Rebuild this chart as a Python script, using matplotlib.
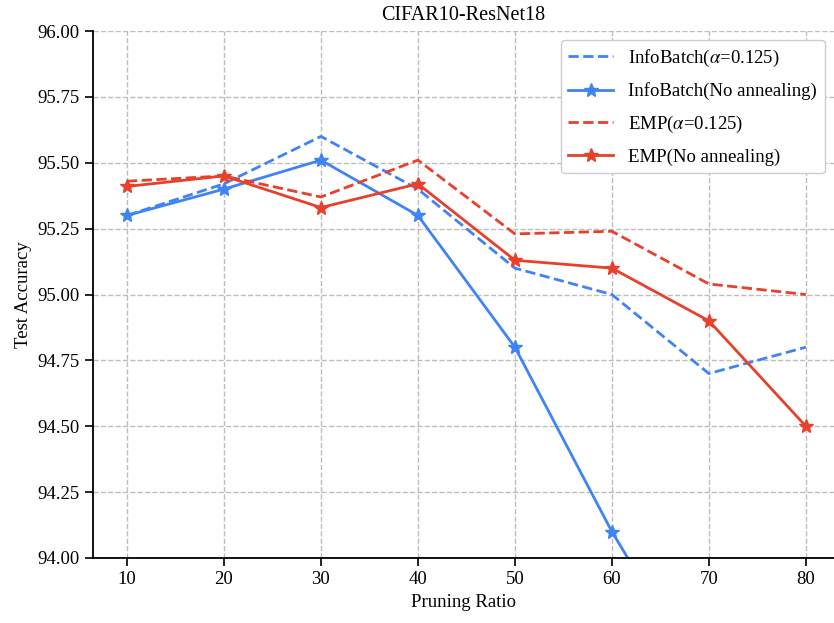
import matplotlib.pyplot as plt

plt.rcParams['font.family'] = ['Liberation Serif', 'DejaVu Serif']
plt.rcParams['mathtext.fontset'] = 'stix'

ratios = [10, 20, 30, 40, 50, 60, 70, 80]
infobatch_anneal = [95.30, 95.42, 95.60, 95.40, 95.10, 95.00, 94.70, 94.80]
infobatch_no_anneal = [95.30, 95.40, 95.51, 95.30, 94.80, 94.10, 93.49, 93.20]
emp_anneal = [95.43, 95.45, 95.37, 95.51, 95.23, 95.24, 95.04, 95.00]
emp_no_anneal = [95.41, 95.45, 95.33, 95.42, 95.13, 95.10, 94.90, 94.50]

blue = '#3f83f5'
red = '#e8402b'

fig = plt.figure(figsize=(8.34, 6.23), dpi=100)
ax = fig.add_axes([93 / 834, 65 / 623, (834 - 93) / 834, 527 / 623])

ax.plot(ratios, infobatch_anneal, '--', color=blue, lw=2, label=r'InfoBatch($\alpha$=0.125)')
ax.plot(ratios, infobatch_no_anneal, '-', color=blue, lw=2, marker='*', ms=10,
        label='InfoBatch(No annealing)')
ax.plot(ratios, emp_anneal, '--', color=red, lw=2, label=r'EMP($\alpha$=0.125)')
ax.plot(ratios, emp_no_anneal, '-', color=red, lw=2, marker='*', ms=10,
        label='EMP(No annealing)')

ax.set_xlim(6.5, 82.9)
ax.set_ylim(94.0, 96.0)
ax.set_xticks(ratios)
ax.set_yticks([94.0 + 0.25 * i for i in range(9)])
ax.yaxis.set_major_formatter(plt.FormatStrFormatter('%.2f'))
ax.tick_params(labelsize=13.5, length=6, width=1.2)

ax.grid(True, linestyle='--', color='#bdbdbd', lw=1)
ax.set_axisbelow(True)
ax.spines['top'].set_visible(False)
ax.spines['right'].set_visible(False)
ax.spines['left'].set_linewidth(1.3)
ax.spines['bottom'].set_linewidth(1.3)

ax.set_title('CIFAR10-ResNet18', fontsize=14.5, pad=8)
ax.set_xlabel('Pruning Ratio', fontsize=13.5)
ax.set_ylabel('Test Accuracy', fontsize=13.5)

ax.legend(loc='upper right', fontsize=13.5, handlelength=2.4, framealpha=1,
          labelspacing=0.72, edgecolor='#cccccc', fancybox=True)

fig.savefig('out.png', dpi=100)
